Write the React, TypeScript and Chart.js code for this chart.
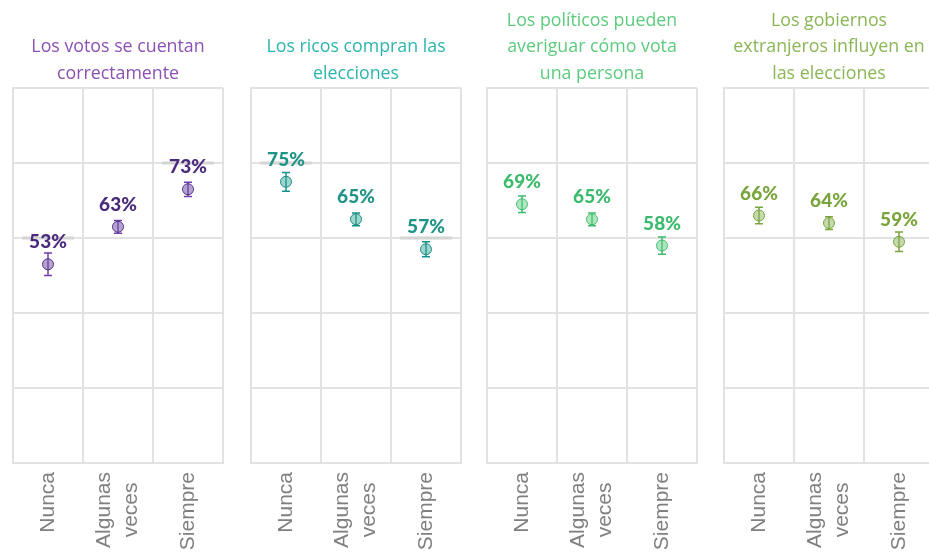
import React, { useEffect, useRef } from "react";
import { Chart, registerables } from "chart.js";

Chart.register(...registerables);

// ---------------- data ----------------
const categories = ["Nunca", "Algunas veces", "Siempre"];
const categoryLines = [["Nunca"], ["Algunas", "veces"], ["Siempre"]];

const titleVotos = ["Los votos se cuentan", "correctamente"];
const titleRicos = ["Los ricos compran las", "elecciones"];
const titlePoliticos = ["Los políticos pueden", "averiguar cómo vota", "una persona"];
const titleGobiernos = ["Los gobiernos", "extranjeros influyen en", "las elecciones"];

const valuesVotos = [0.53, 0.63, 0.73];
const valuesRicos = [0.75, 0.65, 0.57];
const valuesPoliticos = [0.69, 0.65, 0.58];
const valuesGobiernos = [0.66, 0.64, 0.59];

const errorsVotos = [0.03, 0.017, 0.019];
const errorsRicos = [0.025, 0.017, 0.02];
const errorsPoliticos = [0.022, 0.017, 0.023];
const errorsGobiernos = [0.022, 0.017, 0.026];

const yTickValues = [0, 0.2, 0.4, 0.6, 0.8, 1];

// ---------------- styles ----------------
const GRID = "#e2e2e2";
const TITLE_FONT = "17.8px 'Open Sans'";
const LABEL_FONT = "900 19px Lato";
const TICK_FONT = "21px 'Liberation Sans'";

const panels = [
  {
    title: titleVotos, values: valuesVotos, errors: errorsVotos,
    titleColor: "#8b51b5", labelColor: "#4a2a7c",
    pointFill: "rgba(120,85,170,0.55)", pointBorder: "#55338a", errColor: "#7040a8",
    left: 1,
  },
  {
    title: titleRicos, values: valuesRicos, errors: errorsRicos,
    titleColor: "#2db5ad", labelColor: "#1f9486",
    pointFill: "rgba(60,170,155,0.5)", pointBorder: "#1f8f84", errColor: "#14928a",
    left: 239,
  },
  {
    title: titlePoliticos, values: valuesPoliticos, errors: errorsPoliticos,
    titleColor: "#5dcb7d", labelColor: "#3cbb6c",
    pointFill: "rgba(95,205,130,0.5)", pointBorder: "#45bd72", errColor: "#3cbb6c",
    left: 475,
  },
  {
    title: titleGobiernos, values: valuesGobiernos, errors: errorsGobiernos,
    titleColor: "#8ab656", labelColor: "#7aa53d",
    pointFill: "rgba(140,180,95,0.5)", pointBorder: "#7aa53d", errColor: "#7aa53d",
    left: 712,
  },
];

const CANVAS_W = 237;
const CANVAS_H = 552;
const PAD = { left: 12, right: 15, top: 88, bottom: 89 };

const fmt = (v: number) => `${Math.round(v * 100)}%`;

function makePlugin(p: any) {
  return {
    id: "panelDecor",
    beforeDatasetsDraw(chart: any) {
      const { ctx, scales } = chart;
      const x = scales.x, y = scales.y;
      ctx.save();
      // grey segments where labels sit on gridlines
      ctx.font = LABEL_FONT;
      p.values.forEach((v: number, i: number) => {
        const px = x.getPixelForValue(i);
        const py = y.getPixelForValue(v) - 22;
        const w = ctx.measureText(fmt(v)).width;
        yTickValues.forEach((t) => {
          const gy = y.getPixelForValue(t);
          if (Math.abs(gy - py) <= 12) {
            ctx.strokeStyle = "#d4d4d4";
            ctx.lineWidth = 3;
            ctx.beginPath();
            ctx.moveTo(px - w / 2 - 7, gy);
            ctx.lineTo(px + w / 2 + 7, gy);
            ctx.stroke();
          }
        });
      });
      // error bars
      ctx.strokeStyle = p.errColor;
      ctx.lineWidth = 1.5;
      p.values.forEach((v: number, i: number) => {
        const px = x.getPixelForValue(i);
        const top = y.getPixelForValue(v + p.errors[i]);
        const bot = y.getPixelForValue(v - p.errors[i]);
        ctx.beginPath();
        ctx.moveTo(px, top);
        ctx.lineTo(px, bot);
        ctx.moveTo(px - 4, top);
        ctx.lineTo(px + 4, top);
        ctx.moveTo(px - 4, bot);
        ctx.lineTo(px + 4, bot);
        ctx.stroke();
      });
      ctx.restore();
    },
    afterDatasetsDraw(chart: any) {
      const { ctx, scales, chartArea } = chart;
      const x = scales.x, y = scales.y;
      ctx.save();
      // value labels
      ctx.font = LABEL_FONT;
      ctx.fillStyle = p.labelColor;
      ctx.textAlign = "center";
      ctx.textBaseline = "middle";
      p.values.forEach((v: number, i: number) => {
        const px = x.getPixelForValue(i);
        const py = y.getPixelForValue(v) - 22;
        ctx.fillText(fmt(v), px, py);
      });
      // title
      ctx.font = TITLE_FONT;
      ctx.fillStyle = p.titleColor;
      const cx = (chartArea.left + chartArea.right) / 2;
      const n = p.title.length;
      p.title.forEach((line: string, j: number) => {
        const ly = 73.5 - (n - 1 - j) * 26.5;
        ctx.fillText(line, cx, ly);
      });
      // category labels (rotated)
      ctx.font = TICK_FONT;
      ctx.fillStyle = "#808080";
      categoryLines.forEach((lines, i) => {
        const px = x.getPixelForValue(i);
        const w0 = ctx.measureText(lines[0]).width;
        lines.forEach((line, j) => {
          const off = (j - (lines.length - 1) / 2) * 27;
          const wj = ctx.measureText(line).width;
          const shift = (w0 - wj) / 2;
          ctx.save();
          ctx.translate(px + off, chartArea.bottom + 9 + shift);
          ctx.rotate(-Math.PI / 2);
          ctx.textAlign = "right";
          ctx.textBaseline = "middle";
          ctx.fillText(line, 0, 0);
          ctx.restore();
        });
      });
      ctx.restore();
    },
  };
}

function Panel({ p }: { p: any }) {
  const ref = useRef<HTMLCanvasElement>(null);
  useEffect(() => {
    const canvas = ref.current!;
    const chart = new Chart(canvas, {
      type: "line",
      data: {
        labels: categories,
        datasets: [
          {
            data: p.values,
            showLine: false,
            pointRadius: 5.5,
            pointHoverRadius: 5.5,
            pointBackgroundColor: p.pointFill,
            pointBorderColor: p.pointBorder,
            pointBorderWidth: 1,
          },
        ],
      },
      options: {
        responsive: false,
        animation: false,
        devicePixelRatio: 1,
        layout: { padding: PAD },
        plugins: { legend: { display: false }, tooltip: { enabled: false }, title: { display: false } },
        scales: {
          x: {
            type: "category",
            offset: true,
            grid: { offset: true, color: GRID, lineWidth: 2, drawTicks: false },
            border: { display: true, color: GRID, width: 2 },
            ticks: { display: false },
          },
          y: {
            min: 0,
            max: 1,
            grid: { color: GRID, lineWidth: 2, drawTicks: false },
            border: { display: true, color: GRID, width: 2 },
            ticks: { display: false, stepSize: 0.2 },
          },
        },
      },
      plugins: [makePlugin(p)],
    });
    return () => chart.destroy();
  }, [p]);
  return (
    <canvas
      ref={ref}
      width={CANVAS_W}
      height={CANVAS_H}
      style={{ position: "absolute", left: p.left, top: 0, width: CANVAS_W, height: CANVAS_H }}
    />
  );
}

export default function App() {
  return (
    <div
      style={{
        position: "fixed",
        left: 0,
        top: 0,
        width: 929,
        height: 552,
        overflow: "hidden",
        background: "#fff",
      }}
    >
      {panels.map((p, i) => (
        <Panel key={i} p={p} />
      ))}
    </div>
  );
}
